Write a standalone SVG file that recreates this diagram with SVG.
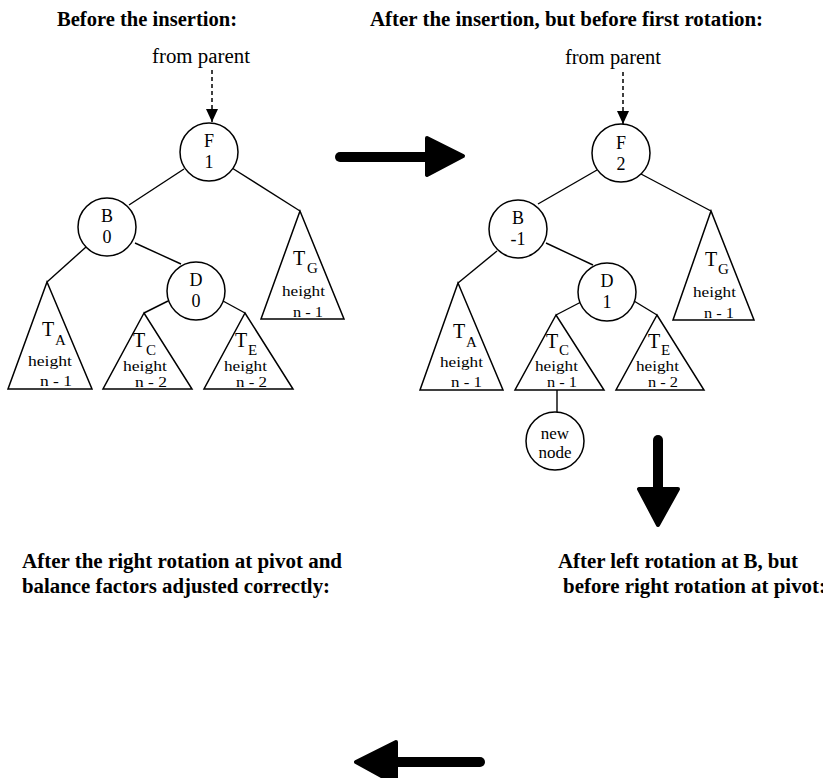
<svg xmlns="http://www.w3.org/2000/svg" width="823" height="778" viewBox="0 0 823 778">
<style>
text { font-family: "Liberation Serif", "Times New Roman", serif; fill: #000; }
.title { font-weight: bold; font-size: 20px; }
.fp { font-size: 20px; }
.nl { font-size: 18px; text-anchor: middle; }
.nn { font-size: 17px; text-anchor: middle; }
.tl { font-size: 20px; }
.sub { font-size: 15px; }
.h { font-size: 14px; }
circle { fill: #fff; stroke: #000; stroke-width: 1.5; }
polygon.tri { fill: #fff; stroke: #000; stroke-width: 1.5; }
.edge { stroke: #000; stroke-width: 1.4; fill: none; }
.dash { stroke: #000; stroke-width: 1.5; stroke-dasharray: 4 3; fill: none; }
.shaft { stroke: #000; stroke-width: 10; stroke-linecap: round; fill: none; }
.head { fill: #000; stroke: #000; stroke-width: 4; stroke-linejoin: round; }
</style>
<defs>
<marker id="ah" markerWidth="13" markerHeight="12" refX="13" refY="6" orient="auto" markerUnits="userSpaceOnUse">
<path d="M0,0 L13,6 L0,12 Z" fill="#000"/>
</marker>
</defs>

<g id="captions">
<text class="title" x="57" y="26" textLength="180" lengthAdjust="spacingAndGlyphs">Before the insertion:</text>
<text class="title" x="370" y="26" textLength="393" lengthAdjust="spacingAndGlyphs">After the insertion, but before first rotation:</text>
<text class="title" x="22" y="568" textLength="320" lengthAdjust="spacingAndGlyphs">After the right rotation at pivot and</text>
<text class="title" x="22" y="593" textLength="308" lengthAdjust="spacingAndGlyphs">balance factors adjusted correctly:</text>
<text class="title" x="558" y="568" textLength="240" lengthAdjust="spacingAndGlyphs">After left rotation at B, but</text>
<text class="title" x="563" y="593" textLength="263" lengthAdjust="spacingAndGlyphs">before right rotation at pivot:</text>
<text class="fp" x="152" y="63" textLength="98" lengthAdjust="spacingAndGlyphs">from parent</text>
<text class="fp" x="565" y="64" textLength="96" lengthAdjust="spacingAndGlyphs">from parent</text>
</g>

<g id="connectors">
<line class="dash" x1="212" y1="70" x2="212" y2="122" marker-end="url(#ah)"/>
<line class="edge" x1="184" y1="169" x2="129" y2="205"/>
<line class="edge" x1="232" y1="168" x2="300" y2="211"/>
<line class="edge" x1="86" y1="247" x2="47" y2="282"/>
<line class="edge" x1="135" y1="243" x2="181" y2="264"/>
<line class="edge" x1="168" y1="301" x2="144" y2="313"/>
<line class="edge" x1="223" y1="301" x2="245" y2="313"/>

<line class="dash" x1="623" y1="72" x2="623" y2="124" marker-end="url(#ah)"/>
<line class="edge" x1="597" y1="170" x2="538" y2="204"/>
<line class="edge" x1="641" y1="174" x2="711" y2="211"/>
<line class="edge" x1="497" y1="251" x2="458" y2="283"/>
<line class="edge" x1="546" y1="243" x2="593" y2="265"/>
<line class="edge" x1="581" y1="302" x2="556" y2="315"/>
<line class="edge" x1="634" y1="301" x2="657" y2="315"/>
<line class="edge" x1="557" y1="390" x2="557" y2="412"/>
</g>

<g id="transitions">
<line class="shaft" x1="340" y1="157" x2="428" y2="157"/>
<polygon class="head" points="427,138 463,156 427,175"/>
<line class="shaft" x1="658" y1="440" x2="658" y2="490"/>
<polygon class="head" points="639,489 678,489 658,525"/>
<line class="shaft" x1="480" y1="762" x2="392" y2="762"/>
<polygon class="head" points="396,742 356,762 396,784"/>
</g>

<!-- Left tree -->
<g id="L_F"><circle cx="209" cy="152" r="29"/><text class="nl" x="209" y="147">F</text><text class="nl" x="209" y="168">1</text></g>
<g id="L_B"><circle cx="107" cy="227" r="29"/><text class="nl" x="107" y="222">B</text><text class="nl" x="107" y="243">0</text></g>
<g id="L_D"><circle cx="196" cy="291" r="29"/><text class="nl" x="196" y="286">D</text><text class="nl" x="196" y="307">0</text></g>
<g id="L_TA"><polygon class="tri" points="47,282 8,389 92,389"/><text class="tl" x="42" y="336">T</text><text class="sub" x="55" y="345">A</text><text class="h" x="28" y="366" textLength="44" lengthAdjust="spacingAndGlyphs">height</text><text class="h" x="40" y="386" textLength="32" lengthAdjust="spacingAndGlyphs">n - 1</text></g>
<g id="L_TC"><polygon class="tri" points="144,313 103,389 192,389"/><text class="tl" x="133" y="347">T</text><text class="sub" x="146" y="355">C</text><text class="h" x="123" y="371" textLength="44" lengthAdjust="spacingAndGlyphs">height</text><text class="h" x="135" y="387" textLength="32" lengthAdjust="spacingAndGlyphs">n - 2</text></g>
<g id="L_TE"><polygon class="tri" points="245,313 204,389 293,389"/><text class="tl" x="235" y="347">T</text><text class="sub" x="248" y="355">E</text><text class="h" x="224" y="371" textLength="43" lengthAdjust="spacingAndGlyphs">height</text><text class="h" x="236" y="387" textLength="31" lengthAdjust="spacingAndGlyphs">n - 2</text></g>
<g id="L_TG"><polygon class="tri" points="300,211 261,319 344,319"/><text class="tl" x="293" y="265">T</text><text class="sub" x="307" y="273">G</text><text class="h" x="282" y="296" textLength="43" lengthAdjust="spacingAndGlyphs">height</text><text class="h" x="293" y="317" textLength="30" lengthAdjust="spacingAndGlyphs">n - 1</text></g>

<!-- Right tree -->
<g id="R_F"><circle cx="621" cy="153" r="29"/><text class="nl" x="621" y="149">F</text><text class="nl" x="621" y="170">2</text></g>
<g id="R_B"><circle cx="518" cy="229" r="29"/><text class="nl" x="518" y="224">B</text><text class="nl" x="518" y="245">-1</text></g>
<g id="R_D"><circle cx="607" cy="292" r="29"/><text class="nl" x="607" y="287">D</text><text class="nl" x="607" y="308">1</text></g>
<g id="R_TA"><polygon class="tri" points="458,283 420,390 503,390"/><text class="tl" x="453" y="338">T</text><text class="sub" x="466" y="347">A</text><text class="h" x="440" y="367" textLength="43" lengthAdjust="spacingAndGlyphs">height</text><text class="h" x="451" y="387" textLength="31" lengthAdjust="spacingAndGlyphs">n - 1</text></g>
<g id="R_TC"><polygon class="tri" points="556,315 515,390 604,390"/><text class="tl" x="546" y="348">T</text><text class="sub" x="559" y="355">C</text><text class="h" x="535" y="371" textLength="43" lengthAdjust="spacingAndGlyphs">height</text><text class="h" x="547" y="387" textLength="30" lengthAdjust="spacingAndGlyphs">n - 1</text></g>
<g id="R_TE"><polygon class="tri" points="657,315 616,390 704,390"/><text class="tl" x="648" y="348">T</text><text class="sub" x="661" y="355">E</text><text class="h" x="636" y="371" textLength="43" lengthAdjust="spacingAndGlyphs">height</text><text class="h" x="648" y="387" textLength="30" lengthAdjust="spacingAndGlyphs">n - 2</text></g>
<g id="R_TG"><polygon class="tri" points="711,211 673,320 754,320"/><text class="tl" x="705" y="266">T</text><text class="sub" x="718" y="274">G</text><text class="h" x="693" y="297" textLength="43" lengthAdjust="spacingAndGlyphs">height</text><text class="h" x="704" y="318" textLength="30" lengthAdjust="spacingAndGlyphs">n - 1</text></g>
<g id="R_new"><circle cx="555" cy="441" r="29"/><text class="nn" x="555" y="439">new</text><text class="nn" x="555" y="458">node</text></g>
</svg>
